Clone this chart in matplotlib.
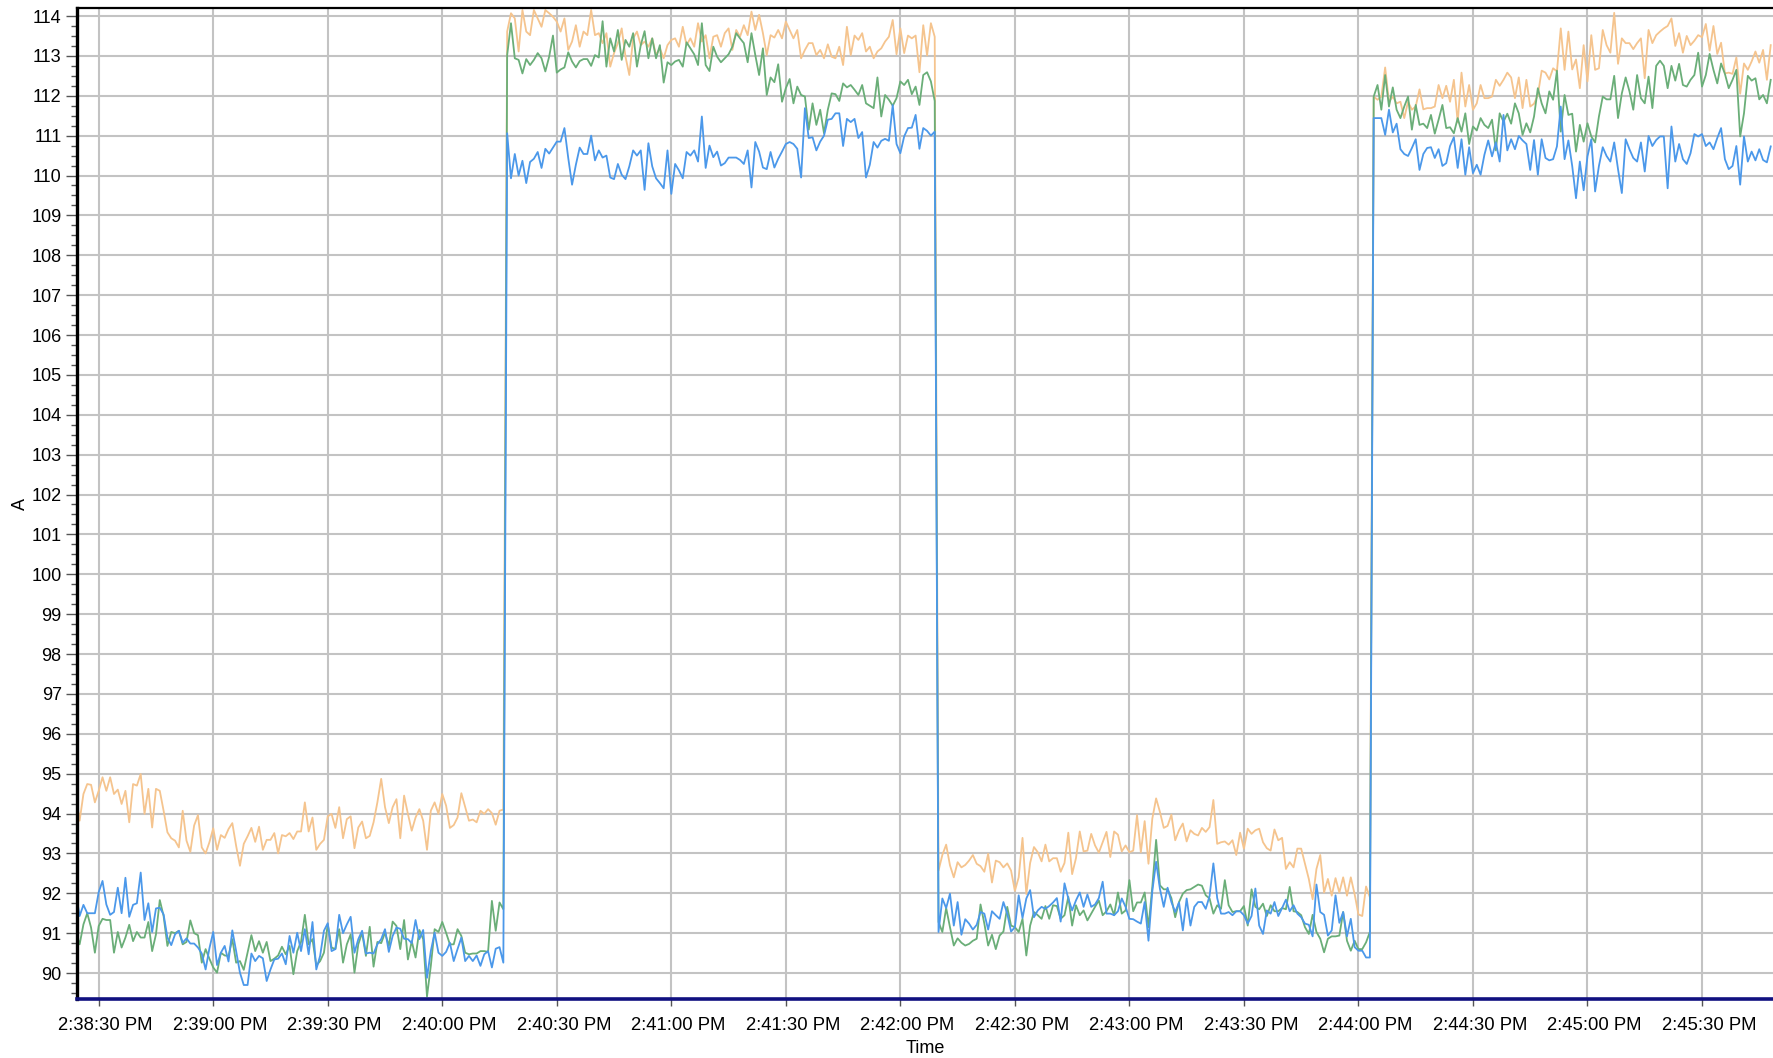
import datetime as dt
import matplotlib
matplotlib.use("Agg")
import matplotlib.pyplot as plt
import matplotlib.dates as mdates
import matplotlib.transforms as mtransforms
from matplotlib.ticker import MultipleLocator, FuncFormatter

# Sampling: one reading per second starting at 2:38:24 PM
start = dt.datetime(2024, 1, 1, 14, 38, 24)
step_s = 1

# Orange series (A)
orange_low1 = [94.45, 93.82, 94.49, 94.74, 94.72, 94.28, 94.57, 94.91, 94.57, 94.91,
               94.49, 94.6, 94.24, 94.57, 93.78, 94.74, 94.7, 94.99, 93.99, 94.62,
               93.65, 94.62, 94.57, 94.07, 93.53, 93.38, 93.32, 93.15, 94.07, 93.32,
               93.04, 93.7, 93.96, 93.15, 93.0, 93.28, 93.63, 93.09, 93.46, 93.39,
               93.61, 93.76, 93.19, 92.69, 93.24, 93.43, 93.64, 93.29, 93.67, 93.09,
               93.34, 93.34, 93.51, 93.0, 93.46, 93.43, 93.51, 93.36,
               93.55, 93.55, 94.28, 93.55, 93.9, 93.09, 93.24, 93.34, 93.93, 93.99,
               93.64, 94.16, 93.38, 93.86, 93.93, 93.13, 93.65, 93.8, 93.38, 93.44,
               93.78, 94.28, 94.87, 94.16, 93.76, 94.16, 94.36, 93.38, 94.45, 93.99,
               93.57, 93.9, 94.11, 93.82, 93.09, 94.07, 94.28, 93.99, 94.49, 94.2,
               93.64, 93.71, 93.9, 94.51, 94.16, 93.82, 93.85, 93.78, 94.07, 93.99,
               94.11, 94.01, 93.72, 94.07, 94.1]
orange_high1 = [113.61, 114.07, 113.94, 113.11, 114.15, 113.61, 113.52, 114.15, 113.94, 113.73,
                114.15, 114.07, 113.98, 113.86, 113.61, 113.94, 113.15, 113.36, 113.77, 113.23,
                113.61, 113.52, 114.15, 113.52, 113.57, 113.32, 113.57, 112.73, 113.07, 113.32,
                113.69, 112.98, 112.52, 113.44, 113.61, 113.27, 113.36, 113.23, 113.44, 113.02,
                113.19, 112.94, 113.27, 113.4, 113.44, 113.23, 113.73, 113.27, 113.44, 113.23,
                113.82, 113.36, 113.52, 112.94, 113.48, 113.52,
                113.23, 113.57, 113.69, 113.15, 113.65, 113.48, 113.77, 113.52, 114.11, 113.65,
                114.03, 113.57, 113.02, 113.52, 113.46, 113.65, 113.44, 113.86, 113.65, 113.44,
                113.65, 112.94, 113.15, 113.32, 113.32, 113.02, 113.15, 112.94, 113.29, 112.98,
                112.94, 113.23, 112.77, 113.73, 113.02, 113.51, 113.4, 113.57, 113.11, 113.23,
                112.94, 113.11, 113.19, 113.36, 113.48, 113.9, 113.04, 113.69, 113.07, 113.51,
                113.44, 113.51, 112.59, 113.77, 113.01, 113.82, 113.48]
orange_low2 = [92.57, 92.96, 93.22, 92.7, 92.4, 92.78, 92.65, 92.71, 92.82, 92.96,
               92.74, 92.68, 92.54, 92.99, 92.27, 92.82, 92.78, 92.65, 92.75, 92.57,
               92.06, 92.4, 93.39, 91.98, 92.76, 93.16, 93.03, 92.8, 93.22, 92.8,
               92.88, 92.88, 92.54, 92.76, 93.52, 92.48, 92.88, 93.55, 93.05, 93.07,
               93.49, 93.2, 93.02, 93.28, 93.54, 92.91, 93.55, 93.47, 93.05, 93.2,
               93.03, 93.07, 93.96, 93.03, 93.81, 92.74, 93.87, 94.38, 94.04, 93.64,
               93.69, 93.97, 93.33, 93.58, 93.75, 93.3, 93.58, 93.49, 93.45, 93.64,
               93.54, 93.66, 94.34, 93.24, 93.28, 93.3, 93.22, 93.33, 92.96, 93.52,
               93.12, 93.62, 93.49, 93.58, 93.62, 93.28, 93.13, 93.07, 93.6, 93.33,
               93.39, 92.61, 92.78, 92.65, 93.12, 93.12, 92.74, 92.36, 91.85, 92.61,
               92.96, 92.02, 92.36, 91.94, 92.38, 92.02, 92.4, 91.94, 92.4, 91.98,
               91.47, 91.43, 92.17, 91.9]
orange_high2 = [111.98, 111.9, 111.98, 112.71, 111.85, 111.98, 111.81, 111.85, 111.44, 111.85,
                111.65, 111.73, 112.16, 111.66, 111.69, 111.69, 111.73, 112.27, 111.94, 112.25,
                111.85, 112.4, 111.33, 112.58, 111.73, 112.27, 111.65, 111.81, 112.27, 111.94,
                111.94, 111.98, 112.4, 112.25, 112.4, 112.58, 112.46, 111.94, 112.46, 111.69,
                112.4, 111.73, 111.8, 112.02, 112.63, 112.58, 112.41, 112.69, 112.61, 113.69,
                112.65, 113.61, 112.66, 112.91, 112.19, 113.27, 112.36, 113.52, 112.65, 112.69,
                113.65, 113.27, 113.08, 114.08, 112.8, 113.44, 113.32, 113.32, 113.17, 113.32,
                113.44, 112.44, 113.65, 113.32, 113.52, 113.61, 113.69, 113.75, 113.94, 113.25,
                113.57, 113.08, 113.5, 113.27, 113.38, 113.52, 113.47, 113.8, 113.13, 113.75,
                113.05, 113.33, 112.56, 112.58, 112.55, 112.96, 112.05, 112.81, 112.65, 112.86,
                113.11, 112.83, 113.15, 112.4, 113.27]

# Green series (A)
green_low1 = [91.01, 90.72, 91.22, 91.5, 91.14, 90.51, 91.18, 91.36, 91.33, 91.33,
              90.51, 91.03, 90.64, 90.89, 91.21, 90.8, 91.03, 90.89, 90.89, 91.28,
              90.55, 90.97, 91.83, 91.43, 90.68, 91.03, 91.0, 91.06, 90.72, 90.78,
              91.32, 91.0, 90.95, 90.26, 90.6, 90.36, 90.14, 90.01, 90.51, 90.44,
              90.43, 90.85, 90.26, 90.3, 90.08, 90.51, 90.95, 90.55, 90.8, 90.51,
              90.78, 90.3, 90.36, 90.44, 90.66, 90.47, 90.68, 89.97,
              90.55, 90.78, 91.46, 90.72, 90.85, 90.19, 90.3, 90.51, 91.22, 90.64,
              90.6, 91.1, 90.26, 90.72, 90.97, 90.01, 90.72, 91.01, 90.43, 91.16,
              90.16, 90.78, 90.75, 91.01, 90.68, 91.29, 91.18, 90.6, 91.33, 90.34,
              90.8, 90.39, 91.08, 90.85, 89.41, 90.18, 91.1, 91.03, 91.28, 91.01,
              90.72, 90.72, 91.1, 90.93, 90.51, 90.47, 90.49, 90.49, 90.55, 90.55,
              90.53, 91.81, 91.06, 91.77, 91.6]
green_high1 = [113.02, 113.82, 112.94, 112.9, 112.56, 112.92, 112.77, 112.9, 113.07, 112.94,
               112.61, 112.98, 113.51, 112.58, 112.66, 112.71, 113.09, 112.86, 112.71, 112.87,
               112.92, 112.92, 112.75, 113.02, 112.96, 113.87, 112.73, 113.44, 113.11, 113.65,
               112.9, 113.4, 113.23, 113.57, 112.73, 113.27, 113.62, 112.94, 113.44, 112.94,
               113.27, 112.33, 112.84, 112.77, 112.86, 112.9, 112.73, 113.34, 113.19, 113.04,
               112.77, 113.82, 112.77, 112.62, 113.23, 112.98,
               112.84, 112.94, 113.04, 113.23, 113.57, 113.44, 113.32, 112.84, 113.57, 113.02,
               112.52, 113.19, 112.02, 112.46, 112.34, 112.79, 111.85, 112.19, 112.42, 111.81,
               112.23, 112.02, 111.98, 111.15, 111.81, 111.27, 111.65, 111.06, 111.65, 112.06,
               112.04, 111.87, 112.31, 112.21, 112.27, 112.15, 112.02, 112.27, 111.81, 111.75,
               111.69, 112.46, 111.48, 112.02, 111.9, 111.75, 111.94, 112.36, 112.27, 112.4,
               112.04, 112.23, 111.77, 112.52, 112.59, 112.36, 111.87]
green_low2 = [91.28, 91.03, 91.63, 91.15, 90.69, 90.87, 90.76, 90.69, 90.73, 90.81,
              90.86, 91.72, 91.24, 90.69, 90.96, 90.6, 90.94, 91.04, 91.66, 91.19,
              91.15, 91.03, 91.36, 90.44, 91.19, 91.53, 91.45, 91.36, 91.68, 91.36,
              91.7, 91.68, 91.36, 91.45, 91.91, 91.19, 91.7, 91.45, 91.57, 91.32,
              91.49, 91.66, 91.82, 91.45, 91.55, 91.72, 91.45, 92.02, 91.49, 91.57,
              92.33, 91.55, 91.77, 91.77, 92.02, 91.15, 92.16, 93.34, 92.2, 92.1,
              92.1, 91.88, 91.4, 91.78, 91.99, 92.08, 92.1, 92.16, 92.22, 92.19,
              91.95, 91.87, 91.49, 91.7, 91.61, 92.33, 91.7, 91.53, 91.55, 91.55,
              91.68, 91.19, 92.1, 91.66, 91.6, 91.74, 91.43, 91.7, 91.55, 91.55,
              91.63, 91.6, 92.16, 91.55, 91.53, 91.45, 91.15, 90.98, 91.46, 91.03,
              90.86, 90.52, 90.86, 90.92, 90.92, 90.94, 91.53, 90.81, 90.56, 90.81,
              90.6, 90.6, 90.77, 91.03]
green_high2 = [111.98, 112.27, 111.65, 112.52, 111.73, 112.21, 111.65, 111.44, 111.73, 111.98,
               111.15, 111.77, 111.27, 111.3, 111.19, 111.52, 111.05, 111.4, 111.77, 111.19,
               111.21, 111.06, 111.44, 111.1, 111.56, 110.79, 111.23, 111.13, 111.44, 111.27,
               111.19, 111.4, 110.63, 111.56, 111.35, 111.55, 111.3, 111.81, 111.56, 111.02,
               111.31, 111.08, 111.48, 112.19, 111.81, 111.56, 112.11, 111.9, 112.63, 111.1,
               112.02, 111.52, 111.55, 110.6, 111.27, 110.85, 111.31, 110.98, 110.83, 111.48,
               111.98, 111.91, 111.91, 112.5, 111.44, 112.06, 112.46, 112.11, 111.65, 112.52,
               111.94, 111.81, 112.48, 111.69, 112.75, 112.88, 112.75, 112.19, 112.75, 112.38,
               112.8, 112.27, 112.23, 112.4, 112.52, 113.08, 112.23, 112.52, 113.05, 112.65,
               112.31, 112.81, 112.55, 112.19, 112.4, 112.65, 110.98, 111.56, 112.5, 112.38,
               112.44, 111.91, 112.02, 111.81, 112.4]

# Blue series (A)
blue_low1 = [92.02, 91.43, 91.71, 91.5, 91.5, 91.5, 92.03, 92.31, 91.72, 91.46,
             91.53, 92.14, 91.5, 92.39, 91.41, 91.71, 91.75, 92.52, 91.33, 91.75,
             91.03, 91.62, 91.64, 91.47, 90.89, 90.7, 90.97, 91.06, 90.76, 90.87,
             90.74, 90.74, 90.64, 90.49, 90.09, 90.62, 91.03, 90.2, 90.51, 90.68,
             90.29, 91.07, 90.55, 90.01, 89.7, 89.7, 90.49, 90.3, 90.43, 90.37,
             89.8, 90.09, 90.34, 90.36, 90.49, 90.22, 90.93, 90.51,
             91.01, 90.55, 91.1, 90.47, 91.28, 90.09, 90.43, 91.06, 91.25, 90.55,
             90.6, 91.46, 91.0, 91.22, 91.41, 90.51, 90.85, 91.06, 90.49, 90.51,
             90.49, 90.72, 90.85, 91.1, 90.53, 90.93, 91.14, 91.11, 90.86, 90.85,
             90.75, 91.33, 90.85, 91.08, 89.88, 90.55, 91.01, 90.51, 90.43, 90.53,
             90.76, 90.3, 90.6, 90.89, 90.3, 90.43, 90.3, 90.44, 90.18, 90.47,
             90.55, 90.14, 90.61, 90.65, 90.26]
blue_high1 = [111.06, 109.93, 110.54, 110.0, 110.37, 109.81, 110.34, 110.42, 110.59, 110.19,
              110.67, 110.55, 110.7, 110.85, 110.85, 111.19, 110.44, 109.77, 110.27, 110.7,
              110.54, 110.54, 111.0, 110.38, 110.63, 110.45, 110.5, 109.95, 109.91, 110.29,
              110.02, 109.91, 110.23, 110.63, 110.5, 110.63, 109.64, 110.81, 110.23, 109.93,
              109.81, 109.68, 110.63, 109.54, 110.29, 110.13, 109.93, 110.59, 110.5, 110.63,
              110.35, 111.48, 110.19, 110.75, 110.46, 110.6,
              110.25, 110.31, 110.45, 110.45, 110.45, 110.39, 110.29, 110.63, 109.7, 110.84,
              110.6, 110.2, 110.16, 110.59, 110.2, 110.42, 110.6, 110.79, 110.84, 110.79,
              110.67, 109.95, 111.69, 110.94, 110.96, 110.63, 110.85, 111.0, 111.4, 111.42,
              111.56, 111.56, 110.74, 111.42, 111.34, 111.42, 110.94, 111.09, 109.95, 110.27,
              110.84, 110.7, 110.87, 110.92, 110.87, 111.77, 110.79, 110.56, 110.98, 111.19,
              111.2, 111.52, 110.67, 111.19, 111.12, 111.0, 111.1]
blue_low2 = [91.03, 91.87, 91.63, 91.99, 91.19, 91.78, 90.96, 91.35, 91.24, 91.09,
             91.21, 91.53, 91.49, 91.09, 91.55, 91.45, 91.36, 91.78, 91.49, 91.04,
             91.15, 91.95, 91.38, 91.87, 92.08, 91.4, 91.57, 91.66, 91.61, 91.68,
             91.77, 91.88, 91.29, 92.25, 91.87, 91.57, 91.82, 92.02, 91.66, 91.97,
             91.66, 91.72, 91.88, 92.29, 91.49, 91.49, 91.45, 91.55, 91.87, 91.66,
             91.36, 91.35, 91.29, 91.24, 91.78, 90.81, 92.05, 92.79, 92.11, 91.66,
             92.14, 91.78, 91.53, 91.77, 91.07, 91.87, 91.19, 91.66, 91.78, 91.78,
             91.61, 91.93, 92.75, 91.88, 91.49, 91.49, 91.53, 91.45, 91.55, 91.55,
             91.45, 91.24, 91.43, 92.12, 91.19, 90.98, 91.57, 91.49, 91.78, 91.43,
             91.63, 91.84, 91.55, 91.7, 91.49, 91.4, 91.24, 91.21, 90.92, 92.22,
             91.53, 91.46, 90.94, 91.07, 91.95, 91.26, 91.53, 90.92, 91.36, 90.65,
             90.56, 90.56, 90.39, 90.39]
blue_high2 = [111.44, 111.44, 111.44, 111.02, 111.65, 111.08, 111.3, 110.66, 110.54, 110.49,
              110.69, 110.91, 110.14, 110.54, 110.69, 110.71, 110.44, 110.66, 110.24, 110.31,
              110.74, 110.96, 110.19, 110.91, 110.02, 110.71, 110.06, 110.27, 110.02, 110.52,
              110.88, 110.48, 110.83, 110.35, 111.52, 110.63, 110.91, 110.66, 110.99, 110.88,
              110.79, 110.14, 110.89, 110.02, 110.91, 110.44, 110.38, 110.41, 110.73, 111.73,
              110.41, 110.88, 110.24, 109.43, 110.35, 109.63, 110.48, 110.91, 109.6, 110.24,
              110.71, 110.49, 110.35, 110.83, 110.16, 109.56, 110.91, 110.66, 110.44, 110.35,
              110.83, 110.1, 110.99, 110.74, 110.89, 110.98, 110.98, 109.68, 111.23, 110.35,
              110.79, 110.41, 110.29, 110.56, 111.04, 110.98, 111.04, 110.74, 110.83, 110.66,
              110.94, 111.19, 110.41, 110.16, 110.24, 110.74, 109.77, 110.98, 110.35, 110.6,
              110.38, 110.66, 110.39, 110.33, 110.73]

orange = orange_low1 + orange_high1 + orange_low2 + orange_high2
green = green_low1 + green_high1 + green_low2 + green_high2
blue = blue_low1 + blue_high1 + blue_low2 + blue_high2

times = [start + dt.timedelta(seconds=i * step_s) for i in range(len(orange))]

plt.rcParams['font.family'] = ['Liberation Sans', 'DejaVu Sans']

fig = plt.figure(figsize=(17.73, 10.58), dpi=100)
ax = fig.add_axes([0.0434, 0.0558, 0.9566, 0.9366])

ax.plot(times, orange, color="#f5c48e", linewidth=1.3)
ax.plot(times, green, color="#6aae78", linewidth=1.3)
ax.plot(times, blue, color="#4b98ea", linewidth=1.3)

ax.set_ylim(89.35, 114.2)
ax.set_xlim(start + dt.timedelta(seconds=0.3), start + dt.timedelta(seconds=444.6))

ax.yaxis.set_major_locator(MultipleLocator(1))
ax.yaxis.set_minor_locator(MultipleLocator(0.25))
ax.xaxis.set_major_locator(mdates.SecondLocator(bysecond=[0, 30]))


def time_label(x, pos):
    d = mdates.num2date(x)
    h = d.hour % 12 or 12
    return f"{h}:{d.minute:02d}:{d.second:02d} {'PM' if d.hour >= 12 else 'AM'}"


ax.xaxis.set_major_formatter(FuncFormatter(time_label))

ax.grid(True, which="major", color="#c3c3c3", linewidth=1.5)
ax.set_axisbelow(True)

ax.tick_params(axis="y", which="major", length=8, width=1.0, color="#555555",
               labelsize=13, pad=3)
ax.tick_params(axis="y", which="minor", length=4, width=1.0, color="#555555")
ax.tick_params(axis="x", which="major", length=5, width=1.0, color="#555555",
               labelsize=13.3, pad=8)

# time labels sit a little to the right of their ticks
shift = mtransforms.ScaledTranslation(0.07, 0, fig.dpi_scale_trans)
for lbl in ax.get_xticklabels():
    lbl.set_transform(lbl.get_transform() + shift)

ax.spines["right"].set_visible(False)
ax.spines["left"].set_linewidth(2.4)
ax.spines["left"].set_color("black")
ax.spines["top"].set_linewidth(1.6)
ax.spines["top"].set_color("black")
ax.spines["bottom"].set_linewidth(2.6)
ax.spines["bottom"].set_color("#101080")

ax.set_xlabel("Time", fontsize=13, labelpad=4)
ax.set_ylabel("A", fontsize=13, labelpad=2)

fig.savefig("out.png", dpi=100)
